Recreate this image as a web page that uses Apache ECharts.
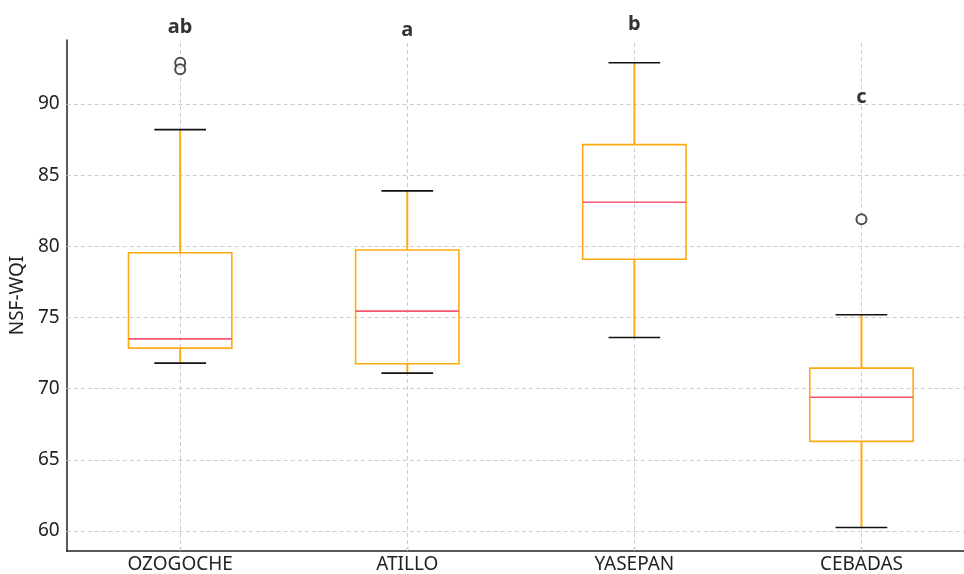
<!DOCTYPE html>
<html>
<head>
<meta charset="utf-8">
<script src="https://cdn.jsdelivr.net/npm/echarts@6/dist/echarts.min.js"></script>
<style>html,body{margin:0;padding:0;background:#fff;overflow:hidden;width:964px;height:574px}#c{width:975px;height:574px}</style>
</head>
<body>
<div id="c"></div>
<script>
// ---- data ----
var categories = ['OZOGOCHE', 'ATILLO', 'YASEPAN', 'CEBADAS'];
// [lowWhisker, Q1, median, Q3, highWhisker]
var boxStats = [
  [71.8, 72.85, 73.5, 79.55, 88.2],
  [71.1, 71.75, 75.45, 79.75, 83.9],
  [73.6, 79.1, 83.1, 87.15, 92.9],
  [60.25, 66.3, 69.4, 71.45, 75.2]
];
// outliers: [categoryIndex, value]
var outliers = [
  [0, 92.9],
  [0, 92.45],
  [3, 81.9]
];
// significance letters: [categoryIndex, yPosition, letter]
var letters = [
  [0, 95.4, 'ab'],
  [1, 95.2, 'a'],
  [2, 95.6, 'b'],
  [3, 90.5, 'c']
];
var yGridTicks = [60, 65, 70, 75, 80, 85, 90];

var chart = echarts.init(document.getElementById('c'), null, {renderer: 'canvas'});
var FONT = 'Noto Sans';

var boxData = boxStats.map(function (s, i) { return [i].concat(s); });

var gridMarks = yGridTicks.map(function (v) { return {yAxis: v}; })
  .concat(categories.map(function (c) { return {xAxis: c}; }));

var option = {
  animation: false,
  backgroundColor: '#fff',
  grid: {left: 66, right: 0, top: 40, bottom: 23, containLabel: false},
  xAxis: {
    type: 'category',
    data: categories,
    boundaryGap: true,
    axisLine: {show: true, lineStyle: {color: '#222', width: 1.5}},
    axisTick: {show: true, inside: true, alignWithLabel: true, length: 4, lineStyle: {color: '#222', width: 1.2}},
    axisLabel: {fontSize: 19, color: '#222', fontFamily: FONT, margin: 4},
    splitLine: {show: false}
  },
  yAxis: {
    type: 'value',
    min: 58.6,
    max: 94.5,
    splitNumber: 7,
    minInterval: 5,
    maxInterval: 5,
    name: 'NSF-WQI',
    nameLocation: 'middle',
    nameGap: 37,
    nameTextStyle: {fontSize: 19, color: '#222', fontFamily: FONT},
    axisLine: {show: true, lineStyle: {color: '#222', width: 1.5}},
    axisTick: {show: false},
    axisLabel: {fontSize: 19, color: '#222', fontFamily: FONT, margin: 7, showMinLabel: false, showMaxLabel: false},
    splitLine: {show: false}
  },
  series: [
    {
      type: 'scatter',
      data: [],
      z: 0,
      silent: true,
      markLine: {
        silent: true,
        symbol: ['none', 'none'],
        label: {show: false},
        lineStyle: {type: [4, 3], color: '#cccccc', width: 1},
        data: gridMarks,
        animation: false
      }
    },
    {
      type: 'custom',
      z: 5,
      data: boxData,
      encode: {x: 0, y: [1, 2, 3, 4, 5]},
      renderItem: function (params, api) {
        var idx = api.value(0);
        var lo = api.coord([idx, api.value(1)]);
        var q1 = api.coord([idx, api.value(2)]);
        var med = api.coord([idx, api.value(3)]);
        var q3 = api.coord([idx, api.value(4)]);
        var hi = api.coord([idx, api.value(5)]);
        var band = api.size([1, 0])[0];
        var bw = band * 0.455;
        var cw = bw * 0.5;
        var x = lo[0];
        var orange = '#FFAA11';
        return {
          type: 'group',
          children: [
            {type: 'line', shape: {x1: x, y1: q1[1], x2: x, y2: lo[1]}, style: {stroke: orange, lineWidth: 2}},
            {type: 'line', shape: {x1: x, y1: q3[1], x2: x, y2: hi[1]}, style: {stroke: orange, lineWidth: 2}},
            {type: 'rect', shape: {x: x - bw / 2, y: q3[1], width: bw, height: q1[1] - q3[1]}, style: {stroke: orange, fill: null, lineWidth: 1.6}},
            {type: 'line', shape: {x1: x - bw / 2, y1: med[1], x2: x + bw / 2, y2: med[1]}, style: {stroke: '#F7566F', lineWidth: 1.6}},
            {type: 'line', shape: {x1: x - cw / 2, y1: lo[1], x2: x + cw / 2, y2: lo[1]}, style: {stroke: '#111', lineWidth: 1.6}},
            {type: 'line', shape: {x1: x - cw / 2, y1: hi[1], x2: x + cw / 2, y2: hi[1]}, style: {stroke: '#111', lineWidth: 1.6}}
          ]
        };
      }
    },
    {
      type: 'scatter',
      z: 6,
      data: outliers,
      symbol: 'emptyCircle',
      symbolSize: 10,
      itemStyle: {color: '#222', borderColor: '#222', borderWidth: 1.5}
    },
    {
      type: 'scatter',
      z: 7,
      clip: false,
      silent: true,
      data: letters,
      symbolSize: 1,
      itemStyle: {color: 'rgba(0,0,0,0)'},
      label: {
        show: true,
        position: 'inside',
        formatter: function (p) { return p.value[2]; },
        fontSize: 20,
        fontWeight: 'bold',
        color: '#000',
        fontFamily: FONT
      }
    }
  ]
};
chart.setOption(option);
</script>
</body>
</html>
